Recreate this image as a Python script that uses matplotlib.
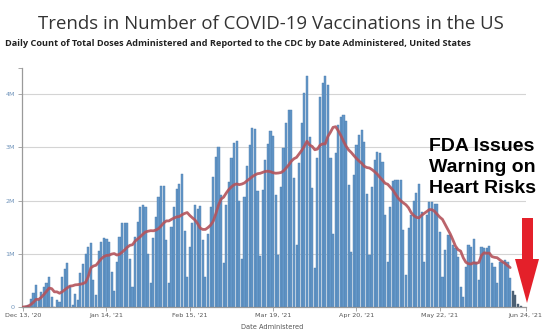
import matplotlib
matplotlib.use("Agg")
import matplotlib.pyplot as plt
from matplotlib.patches import Polygon
import numpy as np
import pandas as pd

START_DATE = "2020-12-13"

# Daily doses administered (millions), one row per week starting Sunday
DAILY_DOSES = [
    0.00, 0.01, 0.03, 0.15, 0.26, 0.41, 0.14,
    0.28, 0.38, 0.45, 0.57, 0.18, 0.00, 0.13,
    0.10, 0.57, 0.72, 0.83, 0.40, 0.04, 0.25,
    0.13, 0.63, 0.80, 1.00, 1.13, 1.20, 0.50,
    0.23, 1.05, 1.22, 1.30, 1.28, 1.23, 0.65,
    0.30, 0.85, 1.32, 1.58, 1.58, 1.58, 0.90,
    0.38, 1.32, 1.60, 1.88, 1.92, 1.87, 1.00,
    0.45, 1.30, 1.70, 2.07, 2.27, 2.27, 1.26,
    0.45, 1.51, 1.88, 2.21, 2.32, 2.50, 1.43,
    0.57, 1.13, 1.57, 1.92, 1.85, 1.90, 1.26,
    0.57, 1.38, 1.88, 2.45, 2.82, 3.00, 2.10,
    0.82, 1.92, 2.35, 2.79, 3.09, 3.12, 2.00,
    0.90, 2.07, 2.64, 3.04, 3.37, 3.34, 2.17,
    0.95, 2.20, 2.76, 3.07, 3.30, 3.21, 2.10,
    0.98, 2.26, 2.98, 3.45, 3.71, 3.70, 2.42,
    1.16, 2.71, 3.45, 4.02, 4.34, 3.20, 2.23,
    0.73, 2.80, 3.95, 4.20, 4.34, 4.17, 2.79,
    1.37, 2.89, 3.42, 3.57, 3.61, 3.50, 2.29,
    1.04, 2.48, 3.04, 3.23, 3.32, 3.10, 2.13,
    0.98, 2.26, 2.76, 2.92, 2.89, 2.73, 1.73,
    0.85, 1.88, 2.37, 2.38, 2.38, 2.38, 1.45,
    0.60, 1.48, 1.73, 2.00, 2.15, 2.31, 1.79,
    0.85, 1.73, 1.98, 1.98, 1.93, 1.93, 1.41,
    0.57, 1.07, 1.35, 1.35, 1.16, 1.10, 0.94,
    0.38, 0.19, 0.76, 1.16, 1.12, 1.28, 0.85,
    0.50, 1.12, 1.10, 1.10, 1.14, 0.82, 0.75,
    0.45, 0.85, 0.85, 0.88, 0.85, 0.55, 0.30,
    0.22, 0.06, 0.02,
]

# last days still being reported (drawn darker, left out of the average)
INCOMPLETE_DAYS = 4

TICK_DATES = ["2020-12-13", "2021-01-14", "2021-02-15", "2021-03-19",
              "2021-04-20", "2021-05-22", "2021-06-24"]
TICK_LABELS = ["Dec 13, '20", "Jan 14, '21", "Feb 15, '21", "Mar 19, '21",
               "Apr 20, '21", "May 22, '21", "Jun 24, '21"]
Y_TICKS = [0, 1, 2, 3, 4]
Y_LABELS = ["0", "1M", "2M", "3M", "4M"]

TITLE = "Trends in Number of COVID-19 Vaccinations in the US"
SUBTITLE = ("Daily Count of Total Doses Administered and Reported to the CDC "
            "by Date Administered, United States")
X_LABEL = "Date Administered"
NOTE = "FDA Issues\nWarning on\nHeart Risks"

W, H = 547, 329
BAR_BLUE = "#6497c8"
BAR_EDGE = "#4a7cad"
BAR_DARK = "#4a5f73"
AVG_RED = "#b4535b"

dates = pd.date_range(START_DATE, periods=len(DAILY_DOSES), freq="D")
doses = pd.Series(DAILY_DOSES, index=dates)
n_done = len(doses) - INCOMPLETE_DAYS
avg7 = doses.iloc[:n_done].rolling(7, min_periods=1).mean()

fig = plt.figure(figsize=(W / 100, H / 100), dpi=100)
ax = fig.add_axes([22 / W, 1 - 307 / H, 504 / W, 239 / H])

ax.bar(dates[:n_done], doses.iloc[:n_done], width=0.82,
       color=BAR_BLUE, edgecolor=BAR_EDGE, linewidth=0.3, zorder=2)
ax.bar(dates[n_done:], doses.iloc[n_done:], width=0.82,
       color=BAR_DARK, edgecolor=BAR_DARK, linewidth=0.3, zorder=2)
ax.plot(avg7.index, avg7.values, color=AVG_RED, lw=2.0, alpha=0.9,
        solid_capstyle="round", zorder=3)

start = pd.Timestamp(START_DATE)
ax.set_xlim(start - pd.Timedelta(hours=10), pd.Timestamp("2021-06-24") + pd.Timedelta(hours=2))
ax.set_ylim(0, 4.49)

ax.set_yticks(Y_TICKS)
ax.set_yticklabels(Y_LABELS)
ax.set_yticks([4.49], minor=True)
ax.set_xticks(pd.to_datetime(TICK_DATES))
ax.set_xticklabels(TICK_LABELS)

ax.yaxis.grid(True, which="major", color="#d4d4d4", lw=0.8, zorder=0)
ax.set_axisbelow(True)

for side in ["top", "right"]:
    ax.spines[side].set_visible(False)
for side in ["left", "bottom"]:
    ax.spines[side].set_color("#9a9a9a")
    ax.spines[side].set_linewidth(0.9)

ax.tick_params(axis="y", which="both", length=3, width=0.6, color="#9a9a9a",
               labelsize=4.6, labelcolor="#7094bb", pad=2)
ax.tick_params(axis="x", length=3, width=0.6, color="#9a9a9a",
               labelsize=4.6, labelcolor="#555555", pad=1.5)
for lbl in ax.get_xticklabels() + ax.get_yticklabels():
    lbl.set_family("DejaVu Sans")

fig.text(272 / W, 1 - 327 / H, X_LABEL, ha="center", va="center",
         fontsize=4.8, color="#555555")

fig.text(271 / W, 1 - 24 / H, TITLE, ha="center", va="center",
         fontsize=13.4, color="#333333", family="Open Sans")
fig.text(5 / W, 1 - 44 / H, SUBTITLE, ha="left", va="center",
         fontsize=6.6, color="#222222", family="Open Sans", weight="bold")

fig.text(429 / W, 1 - 138 / H, NOTE, ha="left", va="top",
         fontsize=14, color="black", family="Liberation Sans",
         weight="bold", linespacing=1.3)

# red arrow pointing down at the right edge
arrow_px = [(522, 218), (533, 218), (533, 259), (539, 259),
            (527, 303), (515, 259), (522, 259)]
arrow = Polygon([(x / W, 1 - y / H) for x, y in arrow_px], closed=True,
                facecolor="#e4202a", edgecolor="none",
                transform=fig.transFigure)
fig.patches.append(arrow)

fig.savefig("out.png", dpi=100)
